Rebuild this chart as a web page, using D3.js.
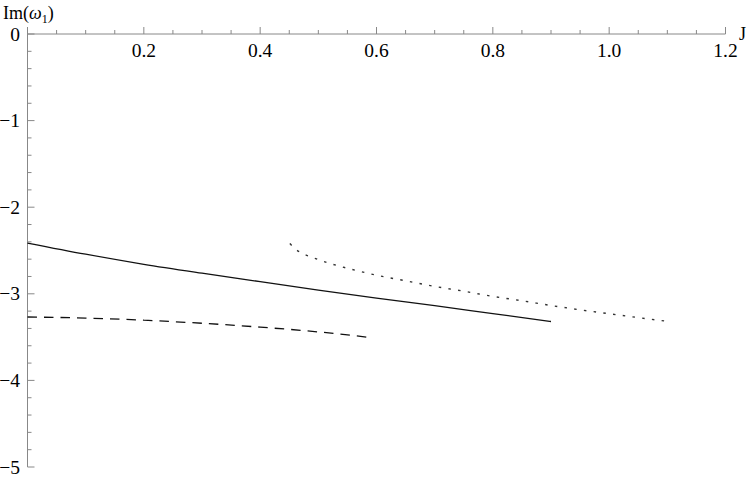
<!DOCTYPE html>
<html><head><meta charset="utf-8">
<script src="https://cdn.jsdelivr.net/npm/d3@7"></script>
<style>body{margin:0;background:#fff}svg{display:block}</style>
</head><body><div id="chart"></div>
<script>
const xTicks = [0.2, 0.4, 0.6, 0.8, 1.0, 1.2];
const yTicks = [0, -1, -2, -3, -4, -5];
const solidJ = [0, 0.1, 0.2, 0.3, 0.4, 0.5, 0.6, 0.7, 0.8, 0.9];
const solidIm = [-2.414, -2.543, -2.659, -2.762, -2.86, -2.958, -3.05, -3.137, -3.229, -3.32];
const dashedJ = [0, 0.1, 0.2, 0.3, 0.4, 0.5, 0.59];
const dashedIm = [-3.268, -3.28, -3.305, -3.34, -3.385, -3.44, -3.505];
const dottedJ = [0.451, 0.46, 0.47, 0.49, 0.52, 0.55, 0.6, 0.65, 0.7, 0.75, 0.8, 0.85, 0.9, 0.95, 1.0, 1.05, 1.1];
const dottedIm = [-2.42, -2.48, -2.525, -2.58, -2.65, -2.705, -2.785, -2.85, -2.915, -2.97, -3.03, -3.08, -3.135, -3.185, -3.23, -3.275, -3.318];

const FONT = "'Liberation Serif', 'Times New Roman', 'DejaVu Serif', serif";
const W = 750, H = 478;
const svg = d3.select("#chart").append("svg").attr("width", W).attr("height", H)
  .attr("font-family", FONT);
const x = d3.scaleLinear().domain([0, 1.2]).range([27.5, 725.5]);
const y = d3.scaleLinear().domain([0, -5]).range([34, 467]);
const axisColor = "#888";

// x axis (at y=0)
const gx = svg.append("g");
gx.append("line").attr("x1", x(0)).attr("x2", x(1.2)).attr("y1", y(0)).attr("y2", y(0)).attr("stroke", axisColor).attr("stroke-width", 1);
const xMinor = d3.range(0, 1.2001, 0.05);
gx.selectAll("line.mn").data(xMinor).join("line")
  .attr("x1", d => x(d)).attr("x2", d => x(d))
  .attr("y1", y(0)).attr("y2", d => y(0) - (Math.abs(d / 0.2 - Math.round(d / 0.2)) < 1e-6 ? 7 : 4))
  .attr("stroke", axisColor);
gx.selectAll("text").data(xTicks).join("text")
  .attr("x", d => x(d)).attr("y", y(0) + 23).attr("text-anchor", "middle")
  .attr("font-family", FONT).attr("font-size", 19.5).text(d => d3.format(".1f")(d));

// y axis
const gy = svg.append("g");
gy.append("line").attr("x1", x(0)).attr("x2", x(0)).attr("y1", y(0)).attr("y2", y(-5)).attr("stroke", axisColor);
const yMinor = d3.range(0, -5.0001, -0.2);
gy.selectAll("line.mn").data(yMinor).join("line")
  .attr("x1", x(0)).attr("x2", d => x(0) + (Math.abs(d - Math.round(d)) < 1e-6 ? 7 : 4))
  .attr("y1", d => y(d)).attr("y2", d => y(d))
  .attr("stroke", axisColor);
gy.selectAll("text").data(yTicks).join("text")
  .attr("x", x(0) - 7.5).attr("y", d => y(d) + 6.5).attr("text-anchor", "end")
  .attr("font-family", FONT).attr("font-size", 19.5).text(d => d === 0 ? "0" : "\u2212" + Math.abs(d));

// axis labels
const lab = svg.append("text").attr("x", 3).attr("y", 19).attr("font-size", 18).attr("font-family", FONT);
lab.append("tspan").text("Im(");
lab.append("tspan").attr("font-style", "italic").text("\u03C9");
lab.append("tspan").attr("font-size", 12).attr("dy", 4).text("1");
lab.append("tspan").attr("dy", -4).text(")");
svg.append("text").attr("x", 739).attr("y", 40).attr("font-size", 18).attr("font-family", FONT).text("J");

const line = d3.line().curve(d3.curveMonotoneX).x(d => x(d[0])).y(d => y(d[1]));
svg.append("path").datum(d3.zip(solidJ, solidIm)).attr("d", line)
  .attr("fill", "none").attr("stroke", "#111").attr("stroke-width", 1.3);
svg.append("path").datum(d3.zip(dashedJ, dashedIm)).attr("d", line)
  .attr("fill", "none").attr("stroke", "#111").attr("stroke-width", 1.3).attr("stroke-dasharray", "9.5,7");
svg.append("path").datum(d3.zip(dottedJ, dottedIm)).attr("d", line)
  .attr("fill", "none").attr("stroke", "#333").attr("stroke-width", 1.4).attr("stroke-dasharray", "2.5,7.3");
</script></body></html>
